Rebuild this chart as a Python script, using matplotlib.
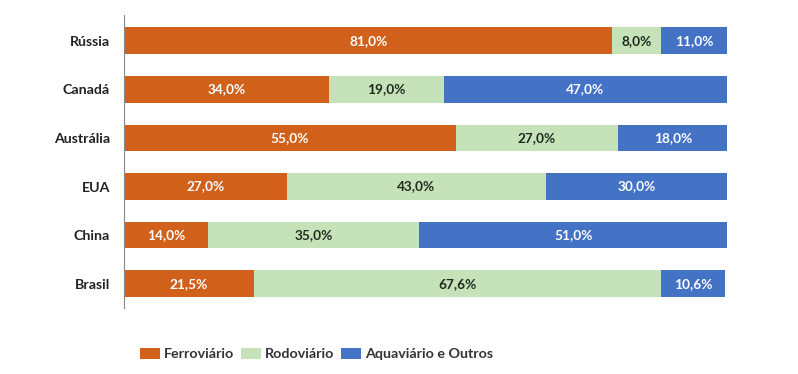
"""
Stacked horizontal bars: transport matrix by country.
"""

import matplotlib.pyplot as plt
import numpy as np

countries = ["Brasil", "China", "EUA", "Austrália", "Canadá", "Rússia"]
ferroviario = [21.5, 14.0, 27.0, 55.0, 34.0, 81.0]
rodoviario = [67.6, 35.0, 43.0, 27.0, 19.0, 8.0]
aquaviario = [10.6, 51.0, 30.0, 18.0, 47.0, 11.0]

series = [
    ("Ferroviário", ferroviario, "#D0601A", "white"),
    ("Rodoviário", rodoviario, "#C6E2B8", "#1e2a1e"),
    ("Aquaviário e Outros", aquaviario, "#4472C4", "white"),
]

plt.rcParams["font.family"] = ["Lato", "DejaVu Sans"]

fig = plt.figure(figsize=(7.98, 3.74), dpi=100)
ax = fig.add_axes([0.1554, 0.1765, 0.7556, 0.7835])

y = np.arange(len(countries))
left = np.zeros(len(countries))
for name, vals, color, txt_color in series:
    bars = ax.barh(y, vals, left=left, height=0.55, color=color, label=name)
    labels = [f"{v:.1f}%".replace(".", ",") for v in vals]
    ax.bar_label(bars, labels=labels, label_type="center",
                 color=txt_color, fontsize=9.8, fontweight="bold")
    left += np.array(vals)

ax.set_xlim(0, 100)
ax.set_ylim(-0.5, 5.53)
ax.set_yticks(y)
ax.set_yticklabels(countries, fontsize=10.2, fontweight="bold", color="#222222")
ax.tick_params(axis="y", length=0, pad=10)
ax.set_xticks([])
for side in ["top", "right", "bottom"]:
    ax.spines[side].set_visible(False)
ax.spines["left"].set_color("#888888")
ax.spines["left"].set_linewidth(0.8)

leg = fig.legend(loc="center left", bbox_to_anchor=(140 / 798, 1 - 354 / 374), ncol=3,
                 frameon=False, borderpad=0, borderaxespad=0,
                 handlelength=1.4, handleheight=0.9, columnspacing=0.5,
                 handletextpad=0.25, prop={"weight": "bold", "size": 10.3})
for t in leg.get_texts():
    t.set_color("#333333")

fig.savefig("out.png", dpi=100)
